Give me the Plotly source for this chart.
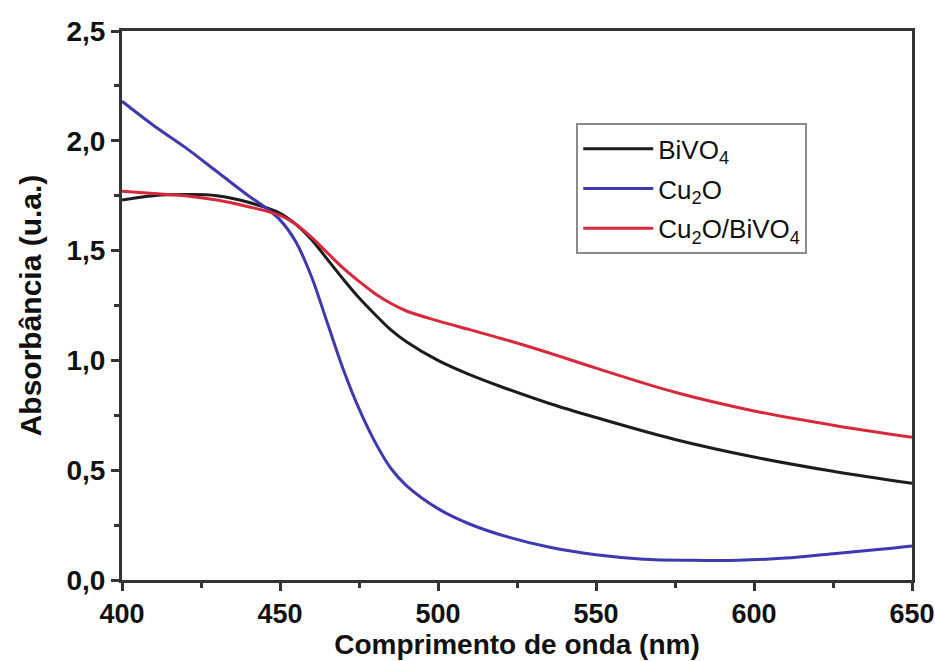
import plotly.graph_objects as go

# Data
bivo4_x = [400, 410, 420, 430, 440, 450, 455, 460, 465, 470, 475, 480, 485, 490, 500, 510, 520, 535, 550, 575, 600, 625, 650]
bivo4_y = [1.73, 1.75, 1.755, 1.75, 1.72, 1.67, 1.62, 1.55, 1.46, 1.37, 1.285, 1.21, 1.14, 1.085, 1.0, 0.935, 0.88, 0.805, 0.74, 0.64, 0.56, 0.495, 0.44]

cu2o_x = [400, 410, 420, 430, 440, 445, 450, 455, 460, 465, 470, 475, 480, 485, 490, 500, 510, 520, 535, 550, 565, 580, 595, 610, 625, 640, 650]
cu2o_y = [2.18, 2.07, 1.97, 1.86, 1.75, 1.70, 1.64, 1.54, 1.38, 1.17, 0.96, 0.78, 0.63, 0.51, 0.43, 0.325, 0.255, 0.205, 0.15, 0.115, 0.095, 0.09, 0.09, 0.10, 0.12, 0.14, 0.155]

comp_x = [400, 410, 420, 430, 440, 450, 455, 460, 465, 470, 475, 480, 485, 490, 500, 510, 520, 535, 550, 575, 600, 625, 650]
comp_y = [1.77, 1.76, 1.75, 1.73, 1.70, 1.66, 1.62, 1.56, 1.49, 1.42, 1.36, 1.305, 1.26, 1.225, 1.18, 1.14, 1.10, 1.035, 0.965, 0.855, 0.77, 0.705, 0.65]

series = [
    ("BiVO<sub>4</sub>", bivo4_x, bivo4_y, "#1c1c1c"),
    ("Cu<sub>2</sub>O", cu2o_x, cu2o_y, "#3f38b0"),
    ("Cu<sub>2</sub>O/BiVO<sub>4</sub>", comp_x, comp_y, "#d8283c"),
]

x_ticks = [400, 450, 500, 550, 600, 650]
y_ticks = [0.0, 0.5, 1.0, 1.5, 2.0, 2.5]
y_tick_text = ["0,0", "0,5", "1,0", "1,5", "2,0", "2,5"]

fig = go.Figure()
for i, (name, xs, ys, col) in enumerate(series):
    fig.add_trace(go.Scatter(
        x=xs, y=ys, mode="lines", name=name, legendgroup=f"g{i}",
        line=dict(color=col, width=3, shape="spline", smoothing=1.0),
    ))

FONT = "Liberation Sans, Arial, sans-serif"

fig.update_layout(
    width=935, height=661,
    margin=dict(l=122, r=23, t=31, b=81, autoexpand=False),
    paper_bgcolor="white", plot_bgcolor="white",
    font=dict(family=FONT, color="#111111", size=16),
    showlegend=True,
    legend=dict(
        x=0.575, y=0.832, xanchor="left", yanchor="top",
        bgcolor="white", bordercolor="#8a8a8a", borderwidth=2,
        font=dict(family=FONT, size=26, color="#111111"),
        tracegroupgap=3, itemwidth=70,
    ),
)

fig.update_xaxes(
    range=[400, 650], tickmode="array", tickvals=x_ticks,
    ticktext=[f"<b>{v}</b>" for v in x_ticks],
    tickfont=dict(family=FONT, size=27, color="#111111"),
    automargin=False, ticklabeloverflow="allow",
    showline=True, linecolor="#333333", linewidth=3, mirror=True,
    ticks="outside", ticklen=8, tickwidth=3, tickcolor="#333333",
    minor=dict(ticks="outside", ticklen=5, tickwidth=3, tickcolor="#333333", dtick=25, tick0=400),
    showgrid=False, zeroline=False,
    title=dict(text="<b>Comprimento de onda (nm)</b>", font=dict(family=FONT, size=28, color="#111111"), standoff=2),
)
fig.update_yaxes(
    range=[0, 2.5], tickmode="array", tickvals=y_ticks,
    ticktext=[f"<b>{t}</b>" for t in y_tick_text],
    tickfont=dict(family=FONT, size=28, color="#111111"),
    automargin=False, ticklabeloverflow="allow",
    showline=True, linecolor="#333333", linewidth=3, mirror=True,
    ticks="outside", ticklen=8, tickwidth=3, tickcolor="#333333",
    minor=dict(ticks="outside", ticklen=5, tickwidth=3, tickcolor="#333333", dtick=0.25, tick0=0),
    showgrid=False, zeroline=False,
    title=dict(text="<b>Absorbância (u.a.)</b>", font=dict(family=FONT, size=30, color="#111111"), standoff=16),
)

fig.write_html("out.html")
